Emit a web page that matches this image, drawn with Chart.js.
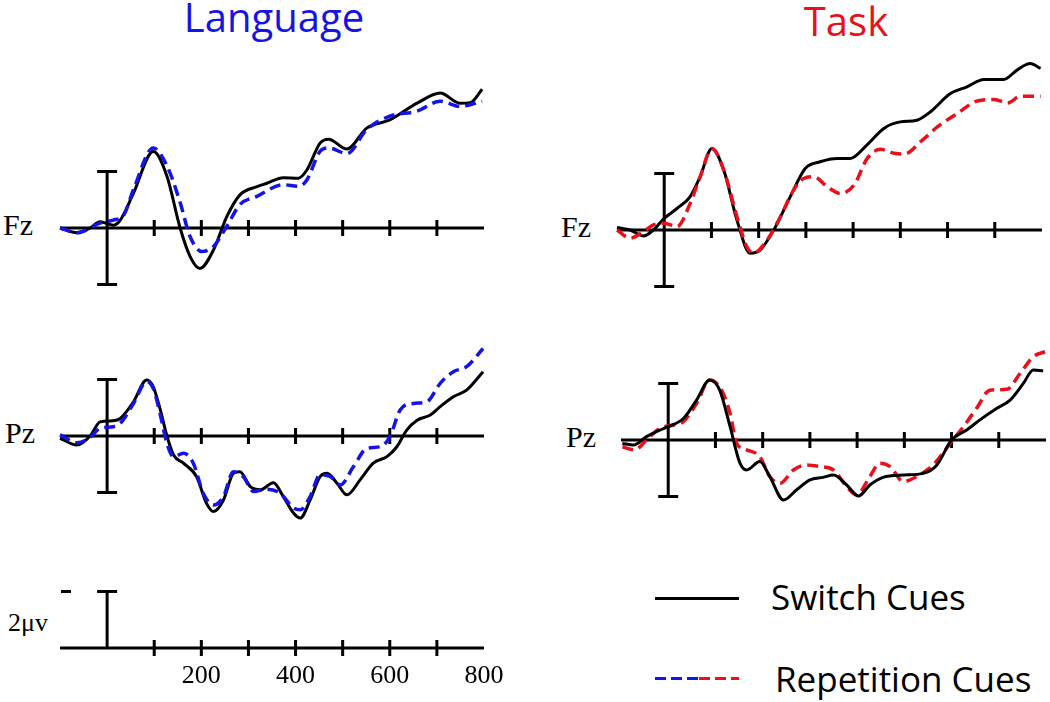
<!DOCTYPE html>
<html>
<head>
<meta charset="utf-8">
<script src="https://cdn.jsdelivr.net/npm/chart.js@4.4.1/dist/chart.umd.min.js"></script>
<style>
    body { margin: 0; width: 1050px; height: 702px; background: #fff; position: relative; overflow: hidden; }
    canvas { position: absolute; }
    .title { position: absolute; font-family: "Open Sans", sans-serif; font-size: 40px; line-height: 40px; white-space: nowrap; transform: translateX(-50%); }
    .site { position: absolute; font-family: "Liberation Serif", serif; font-size: 30px; line-height: 30px; }
    .tick { position: absolute; font-family: "Liberation Serif", serif; font-size: 26px; line-height: 26px; transform: translateX(-50%); }
    .legtext { position: absolute; font-family: "Open Sans", sans-serif; font-size: 35px; line-height: 35px; white-space: nowrap; }
    .legline { position: absolute; height: 3px; }
</style>
</head>
<body>

<div class="title" style="left:274px; top:-3px; color:rgb(20,20,230)">Language</div>
<div class="title" style="left:846px; top:1px; color:rgb(232,16,26)">Task</div>

<div class="site" style="left:8px; top:610px; font-size:26px; line-height:26px">2μv</div>

<div class="legline" style="left:655px; top:597px; width:84px; background:#000"></div>
<div class="legtext" style="left:771px; top:579px">Switch Cues</div>
<div class="legline" style="left:655px; top:677px; width:44px; background:repeating-linear-gradient(to right, rgb(20,20,230) 0 11px, transparent 11px 16px)"></div>
<div class="legline" style="left:699px; top:677px; width:40px; background:repeating-linear-gradient(to right, rgb(232,16,26) 0 11px, transparent 11px 16px)"></div>
<div class="legtext" style="left:775px; top:661px">Repetition Cues</div>

<script>
// time axis (ms) and amplitude (μV)
const timeMin = -100;
const timeMax = 800;
const tickTimes = [100, 200, 300, 400, 500, 600, 700];
const tickLabels = [200, 400, 600, 800];
const scaleBarUv = 2;

// Language, Fz
const langFzSwitchT = [-100,-64,-36,-15,13,28,56,98,127,155,176,197,226,254,282,318,339,374,406,424,452,470,509,551,600,658,707,749,771,796];
const langFzSwitchV = [0,-0.17,0,0.22,0.1,0.28,1.23,2.7,1.83,0,-1.0,-1.43,-0.77,0.4,1.17,1.46,1.58,1.78,1.76,2.05,3.0,3.14,2.79,3.53,3.82,4.41,4.77,4.41,4.43,4.9];
const langFzRepT = [-100,-64,-15,13,35,56,98,127,155,176,201,226,254,282,318,374,406,424,452,470,509,551,600,658,707,749,796];
const langFzRepV = [0,-0.17,0.17,0.28,0.45,1.36,2.83,2.2,0.9,-0.3,-0.83,-0.65,0.06,0.83,1.12,1.53,1.47,1.7,2.71,2.83,2.63,3.48,3.95,4.13,4.48,4.3,4.48];

// Language, Pz
const langPzSwitchT = [-100,-64,-36,-15,13,28,56,84,98,113,127,141,162,190,211,226,247,268,282,304,325,353,374,396,410,431,452,467,488,509,537,565,594,615,636,658,686,707,735,763,798];
const langPzSwitchV = [-0.08,-0.32,0,0.5,0.54,0.62,1.21,1.98,1.74,0.92,0,-0.67,-0.96,-1.44,-2.38,-2.67,-2.26,-1.32,-1.26,-1.79,-1.9,-1.65,-2.14,-2.73,-2.9,-2.26,-1.44,-1.32,-1.67,-2.08,-1.55,-0.96,-0.73,-0.38,0.21,0.56,0.74,1.04,1.39,1.62,2.27];
const langPzRepT = [-100,-64,-36,-15,13,28,56,84,98,113,127,141,162,183,204,226,247,268,289,311,339,367,396,410,431,452,474,495,523,551,580,601,622,650,679,707,735,763,798];
const langPzRepV = [0.04,-0.24,-0.05,0.27,0.33,0.45,1.15,1.92,1.68,0.74,-0.26,-0.73,-0.61,-0.96,-2.02,-2.44,-2.14,-1.26,-1.44,-1.96,-1.88,-2.02,-2.55,-2.61,-2.14,-1.38,-1.44,-1.73,-1.08,-0.44,-0.38,0,0.92,1.15,1.21,1.86,2.27,2.45,3.09];

// Task, Fz
const taskFzSwitchT = [-100,-72,-44,-23,0,27,55,76,101,126,154,182,203,232,267,299,330,366,394,429,465,500,535,564,606,641,677,719,747,775,797];
const taskFzSwitchV = [0.09,0,-0.21,0,0.41,0.76,1.18,1.88,2.88,2.12,0.35,-0.82,-0.71,0,1.18,2.18,2.41,2.53,2.53,3.0,3.59,3.82,3.88,4.18,4.82,5.06,5.32,5.32,5.65,5.88,5.71];
const taskFzRepT = [-100,-72,-44,-23,0,27,55,76,101,126,154,175,189,218,246,274,295,317,345,373,402,430,458,487,508,543,579,621,663,699,727,755,797];
const taskFzRepV = [0,-0.29,-0.06,0.18,0.24,0.12,0.94,1.88,2.88,2.12,0.47,-0.59,-0.82,-0.35,0.47,1.41,1.82,1.88,1.53,1.29,1.59,2.53,2.85,2.71,2.68,3.12,3.65,4.12,4.56,4.61,4.49,4.73,4.73];

// Task, Pz
const taskPzSwitchT = [-97,-74,-46,-18,0,32,60,88,109,131,152,166,194,215,244,272,300,328,350,378,403,427,455,498,540,569,600,632,660,696,724,752,773,794];
const taskPzSwitchV = [-0.12,-0.18,0.12,0.35,0.47,0.76,1.41,2.12,1.76,0.47,-0.82,-1.06,-0.76,-1.29,-2.12,-1.76,-1.41,-1.32,-1.24,-1.59,-1.98,-1.59,-1.32,-1.24,-1.18,-0.88,0,0.35,0.71,1.12,1.41,2.0,2.47,2.45];
const taskPzRepT = [-97,-71,-46,-18,11,32,60,88,113,131,145,166,194,215,237,265,293,321,350,378,399,427,448,470,498,526,561,597,625,653,681,717,745,773,798];
const taskPzRepV = [-0.24,-0.35,0,0.41,0.53,0.65,1.29,2.12,1.76,0.94,-0.12,-0.35,-0.59,-1.29,-1.53,-1.06,-0.88,-0.94,-1.06,-1.65,-1.94,-1.29,-0.82,-0.94,-1.47,-1.29,-0.88,-0.12,0.47,1.12,1.76,1.79,2.35,2.94,3.12];

const BLUE = 'rgb(20,20,230)';
const RED = 'rgb(232,16,26)';
const PX_PER_UV = 28.3;
const PAD = 10;

function toPoints(ts, vs) {
    return ts.map((t, i) => ({ x: t, y: vs[i] }));
}

// draws the baseline, time ticks and the vertical amplitude bar
const erpAxis = {
    id: 'erpAxis',
    beforeDatasetsDraw(chart, args, opts) {
        const ctx = chart.ctx;
        const x = chart.scales.x, y = chart.scales.y;
        const y0 = y.getPixelForValue(0);
        ctx.save();
        ctx.strokeStyle = '#000';
        ctx.lineWidth = 3;
        ctx.beginPath();
        ctx.moveTo(x.getPixelForValue(timeMin), y0);
        ctx.lineTo(x.getPixelForValue(timeMax), y0);
        tickTimes.forEach(t => {
            const px = x.getPixelForValue(t);
            ctx.moveTo(px, y0 - 8);
            ctx.lineTo(px, y0 + 8);
        });
        const bx = x.getPixelForValue(0);
        const top = y.getPixelForValue(scaleBarUv);
        const bot = opts.halfBar ? y0 : y.getPixelForValue(-scaleBarUv);
        ctx.moveTo(bx, top);
        ctx.lineTo(bx, bot);
        ctx.moveTo(bx - 10, top);
        ctx.lineTo(bx + 10, top);
        if (!opts.halfBar) {
            ctx.moveTo(bx - 10, bot);
            ctx.lineTo(bx + 10, bot);
        } else {
            // little polarity mark at the left end
            const lx = x.getPixelForValue(timeMin);
            ctx.moveTo(lx + 1, top);
            ctx.lineTo(lx + 11, top);
        }
        ctx.stroke();
        ctx.restore();
    }
};

function makePanel(area, datasets, opts) {
    const canvas = document.createElement('canvas');
    canvas.width = area.right - area.left + 2 * PAD;
    canvas.height = area.bottom - area.top + 2 * PAD;
    canvas.style.left = (area.left - PAD) + 'px';
    canvas.style.top = (area.top - PAD) + 'px';
    document.body.appendChild(canvas);

    const chart = new Chart(canvas, {
        type: 'line',
        data: { datasets: datasets },
        options: {
            responsive: false,
            animation: false,
            events: [],
            layout: { padding: PAD },
            plugins: {
                legend: { display: false },
                tooltip: { enabled: false },
                erpAxis: opts || {}
            },
            scales: {
                x: { type: 'linear', min: timeMin, max: timeMax, display: false },
                y: {
                    min: -(area.bottom - area.base) / PX_PER_UV,
                    max: (area.base - area.top) / PX_PER_UV,
                    display: false
                }
            }
        },
        plugins: [erpAxis]
    });
    return chart;
}

function solid(ts, vs) {
    return {
        data: toPoints(ts, vs),
        borderColor: '#000',
        borderWidth: 3,
        pointRadius: 0,
        cubicInterpolationMode: 'monotone',
        clip: false
    };
}

function dashed(ts, vs, color) {
    return {
        data: toPoints(ts, vs),
        borderColor: color,
        borderWidth: 3.5,
        borderDash: [11, 6],
        pointRadius: 0,
        cubicInterpolationMode: 'monotone',
        clip: false
    };
}

function siteLabel(text, left, base) {
    const d = document.createElement('div');
    d.className = 'site';
    d.textContent = text;
    d.style.left = left + 'px';
    d.style.top = (base - 18) + 'px';
    document.body.appendChild(d);
}

const langFzArea = { left: 60, right: 484, top: 60, bottom: 300, base: 228 };
const langPzArea = { left: 60, right: 484, top: 320, bottom: 530, base: 436 };
const taskFzArea = { left: 617, right: 1042, top: 50, bottom: 310, base: 230 };
const taskPzArea = { left: 621, right: 1046, top: 330, bottom: 530, base: 440 };
const scaleArea = { left: 60, right: 484, top: 570, bottom: 665, base: 648 };

makePanel(langFzArea, [dashed(langFzRepT, langFzRepV, BLUE), solid(langFzSwitchT, langFzSwitchV)]);
makePanel(langPzArea, [dashed(langPzRepT, langPzRepV, BLUE), solid(langPzSwitchT, langPzSwitchV)]);
makePanel(taskFzArea, [dashed(taskFzRepT, taskFzRepV, RED), solid(taskFzSwitchT, taskFzSwitchV)]);
makePanel(taskPzArea, [solid(taskPzSwitchT, taskPzSwitchV), dashed(taskPzRepT, taskPzRepV, RED)]);
const scaleChart = makePanel(scaleArea, [], { halfBar: true });

siteLabel('Fz', 3, langFzArea.base);
siteLabel('Pz', 5, langPzArea.base);
siteLabel('Fz', 561, taskFzArea.base);
siteLabel('Pz', 566, taskPzArea.base);

// time labels under the scale panel
tickLabels.forEach(v => {
    const d = document.createElement('div');
    d.className = 'tick';
    d.textContent = v;
    d.style.left = (scaleArea.left - PAD + scaleChart.scales.x.getPixelForValue(v)) + 'px';
    d.style.top = (scaleArea.base + 14) + 'px';
    document.body.appendChild(d);
});
</script>
</body>
</html>
